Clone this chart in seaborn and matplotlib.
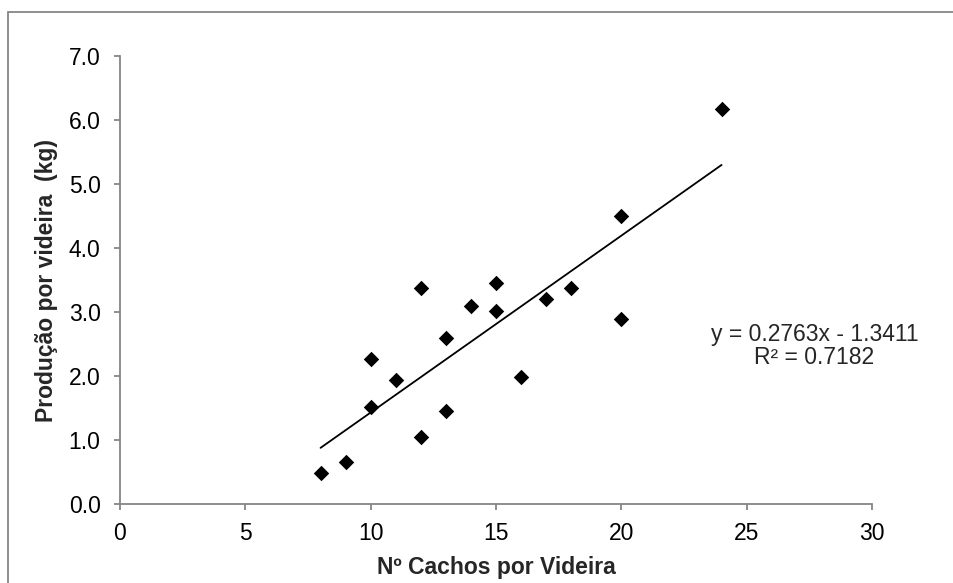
import matplotlib
matplotlib.use("Agg")
import matplotlib.pyplot as plt
import seaborn as sns
import pandas as pd
from matplotlib.patches import Rectangle

cachos = [8, 9, 10, 10, 11, 12, 12, 13, 13, 14, 15, 15, 16, 17, 18, 20, 20, 24]
producao = [0.48, 0.65, 1.51, 2.26, 1.93, 3.37, 1.05, 2.60, 1.45, 3.09,
            3.46, 3.01, 1.98, 3.21, 3.37, 4.51, 2.89, 6.18]
x_ticks = [0, 5, 10, 15, 20, 25, 30]
y_ticks = [0, 1, 2, 3, 4, 5, 6, 7]
equation = "y = 0.2763x - 1.3411\nR² = 0.7182"

df = pd.DataFrame({"x": cachos, "y": producao})

sns.set_theme(style="white")
plt.rcParams["font.family"] = ["Liberation Sans", "DejaVu Sans"]

W, H = 954, 583
fig = plt.figure(figsize=(W / 100, H / 100), dpi=100)
left, right, top, bottom = 120, 872, 56.4, 503.7
ax = fig.add_axes([left / W, 1 - bottom / H, (right - left) / W, (bottom - top) / H])

sns.scatterplot(data=df, x="x", y="y", marker="D", s=62, color="black",
                edgecolor="black", linewidth=0, ax=ax, zorder=3)
sns.regplot(data=df, x="x", y="y", scatter=False, ci=None, truncate=True,
            color="black", line_kws={"linewidth": 1.3}, ax=ax)

ax.set_xlim(0, 30)
ax.set_ylim(0, 7)
ax.set_xticks(x_ticks)
ax.set_yticks(y_ticks)
ax.set_xticklabels([str(t) for t in x_ticks])
ax.set_yticklabels([f"{t:.1f}" for t in y_ticks])

gray = "#868686"
for side in ["top", "right"]:
    ax.spines[side].set_visible(False)
for side in ["left", "bottom"]:
    ax.spines[side].set_color(gray)
    ax.spines[side].set_linewidth(1.3)
ax.tick_params(axis="both", which="major", direction="out", length=4,
               width=1.3, color=gray, labelsize=16.5, labelcolor="black",
               bottom=True, left=True)
ax.tick_params(axis="y", pad=10)
ax.tick_params(axis="x", pad=9)

ax.set_xlabel("Nº Cachos por Videira", fontsize=16.5, fontweight="bold", labelpad=8)
ax.set_ylabel("Produção por videira  (kg)", fontsize=16.5, fontweight="bold", labelpad=8)

ax.text(27.7, 2.47, equation, ha="center", va="center", fontsize=16.5,
        linespacing=1.0)

fig.patches.append(Rectangle((8 / W, -0.1), 1.2, 1.1 - 12 / H,
                             transform=fig.transFigure, fill=False,
                             edgecolor=gray, linewidth=1.3))

fig.savefig("out.png", dpi=100, facecolor="white")
